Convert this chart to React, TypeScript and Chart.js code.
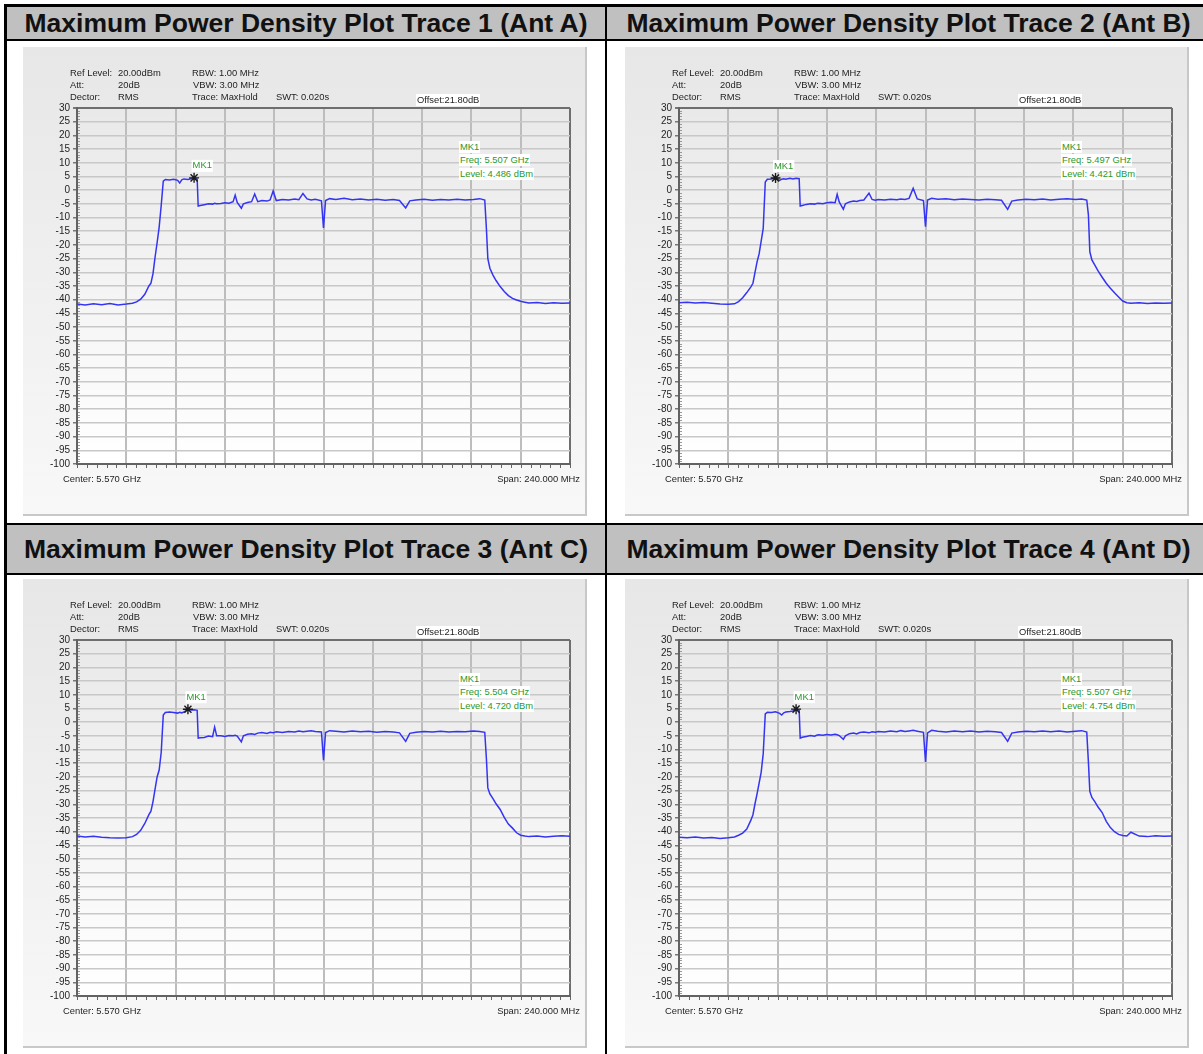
import React, { useEffect, useRef } from "react";
import { Chart, registerables } from "chart.js";

Chart.register(...registerables);

// ---------- data ----------
const START_MHZ = 5450;
const SPAN_MHZ = 240;
const CENTER_TEXT = "Center: 5.570 GHz";
const SPAN_TEXT = "Span: 240.000 MHz";
const Y_MIN = -100;
const Y_MAX = 30;
const Y_STEP = 5;
const X_STEP = 24;

const TITLES = [
  "Maximum Power Density Plot Trace 1 (Ant A)",
  "Maximum Power Density Plot Trace 2 (Ant B)",
  "Maximum Power Density Plot Trace 3 (Ant C)",
  "Maximum Power Density Plot Trace 4 (Ant D)",
];

const INFO_LABELS = ["Ref Level:", "Att:", "Dector:"];
const INFO_VALUES = ["20.00dBm", "20dB", "RMS"];
const INFO_MID = ["RBW: 1.00 MHz", "VBW: 3.00 MHz", "Trace: MaxHold"];
const SWT_TEXT = "SWT: 0.020s";
const OFFSET_TEXT = "Offset:21.80dB";

const MARKER_FREQ_GHZ = [5.507, 5.497, 5.504, 5.507];
const MARKER_LEVEL_DBM = [4.486, 4.421, 4.72, 4.754];

// frequency offsets from the start frequency (MHz)
const FREQ_OFFSET_MHZ = [
  0, 4, 8, 12, 16, 20, 24, 27,
  29, 31, 33, 35, 36, 37, 38, 39, 40, 41, 42, 43,
  45, 47, 49, 50, 51, 52, 54, 55.5, 57, 58.5,
  59, 60, 62, 64, 66, 67, 68, 70, 72, 74,
  76, 77, 78, 80, 81, 83, 85, 86.5, 88, 90,
  92.5, 94, 95.5, 97, 100, 103, 106, 108, 110, 112,
  114, 116, 119, 120, 121, 123, 126, 130, 134, 138,
  142, 146, 150, 154, 157, 160, 162, 165, 169, 173,
  177, 181, 185, 189, 193, 196, 198.5,
  199.3, 200, 201, 202.5, 204, 206, 208, 210, 212, 214,
  216, 218, 220, 224, 228, 232, 236, 240,
];

const LEVEL_ANT_A = [
  -41.6, -41.9, -41.5, -41.8, -41.4, -41.9, -41.6, -41.3,
  -40.8, -39.8, -38.0, -35.0, -34.0, -30.5, -24.5, -19.2, -13.5, -5.5, 3.3, 3.9,
  3.7, 4.0, 3.6, 2.6, 3.8, 4.1, 3.9, 4.2, 4.49, 4.0,
  -5.8, -5.6, -5.3, -5.0, -5.1, -4.8, -5.0, -4.9, -4.6, -4.8,
  -4.2, -1.8, -4.5, -6.6, -5.0, -4.5, -4.2, -1.4, -4.2, -3.8,
  -4.0, -3.6, -0.3, -3.8, -3.4, -3.6, -3.2, -3.5, -1.2, -3.2,
  -3.6, -3.3, -3.9, -13.8, -3.8, -3.1, -3.4, -3.0, -3.5, -3.2,
  -3.6, -3.3, -3.7, -3.4, -3.8, -6.5, -3.9, -3.6, -3.3, -3.7,
  -3.4, -3.6, -3.3, -3.6, -3.4, -3.1, -3.6,
  -14.0, -25.0, -28.5, -31.0, -33.0, -35.2, -37.0, -38.5, -39.5, -40.1,
  -40.6, -40.9, -41.2, -41.0, -41.4, -41.1, -41.3, -41.2,
];

const LEVEL_ANT_B = [
  -41.1, -40.9, -41.2, -41.0, -41.3, -41.6, -41.7, -41.5,
  -40.7, -39.3, -37.4, -35.3, -34.0, -30.0, -26.2, -23.3, -18.6, -14.0, 3.0, 4.0,
  4.1, 4.42, 3.6, 4.0, 4.2, 4.0, 4.3, 4.1, 4.35, 4.2,
  -5.8, -5.6, -5.2, -5.0, -5.1, -4.9, -4.8, -5.0, -4.6, -4.4,
  -4.6, -1.5, -4.3, -7.0, -5.0, -4.3, -4.0, -4.1, -3.8, -3.6,
  -1.1, -3.4, -3.7, -3.4, -3.6, -3.3, -3.5, -3.2, -3.4, -3.0,
  0.7, -3.2, -3.8, -13.3, -3.6, -3.0, -3.3, -3.1, -3.5, -3.2,
  -3.4, -3.6, -3.3, -3.5, -3.7, -7.0, -4.0, -3.6, -3.3, -3.5,
  -3.2, -3.6, -3.3, -3.1, -3.4, -3.2, -3.6,
  -9.0, -22.5, -25.5, -27.5, -29.5, -31.8, -34.0, -35.8, -37.5, -39.0,
  -40.5, -41.1, -41.3, -41.1, -41.4, -41.2, -41.3, -41.2,
];

const LEVEL_ANT_C = [
  -41.6, -41.9, -41.7, -42.0, -42.2, -42.3, -42.2, -41.8,
  -41.0, -39.5, -37.0, -33.8, -32.5, -29.0, -24.5, -20.0, -17.5, -11.0, 2.6, 3.5,
  3.7, 3.5, 3.3, 3.6, 3.4, 3.7, 4.72, 4.4, 4.5, 4.3,
  -5.8, -5.7, -5.6, -5.1, -5.3, -1.8, -5.0, -5.0, -5.2, -4.9,
  -5.0, -4.8, -5.1, -7.2, -5.0, -4.4, -4.2, -4.5, -4.0, -3.8,
  -4.1, -3.7, -3.9, -3.5, -3.8, -3.4, -3.6, -3.2, -3.5, -3.3,
  -3.1, -3.4, -3.6, -13.9, -3.8, -3.1, -3.3, -3.6, -3.2, -3.5,
  -3.3, -3.7, -3.4, -3.6, -3.9, -7.0, -4.1, -3.7, -3.4, -3.6,
  -3.3, -3.6, -3.4, -3.5, -3.2, -3.4, -3.7,
  -13.3, -24.0, -26.2, -27.9, -29.8, -31.9, -34.8, -37.2, -38.7, -40.4,
  -41.3, -41.6, -41.8, -41.6, -41.9, -41.7, -41.5, -41.7,
];

const LEVEL_ANT_D = [
  -42.0, -42.2, -41.9, -42.3, -42.1, -42.5, -42.2, -41.9,
  -41.3, -40.5, -39.0, -35.8, -33.8, -29.8, -26.2, -22.3, -18.3, -11.5, 3.0, 3.6,
  3.5, 3.8, 3.2, 2.6, 3.4, 3.7, 3.9, 4.1, 4.754, 4.3,
  -5.8, -5.5, -5.2, -4.9, -5.1, -4.8, -4.6, -4.8, -4.5, -4.7,
  -4.4, -4.6, -4.9, -6.3, -5.0, -4.2, -4.0, -4.3, -3.8, -3.6,
  -3.9, -3.5, -3.7, -3.4, -3.6, -3.2, -3.5, -3.1, -3.4, -3.2,
  -3.0, -3.3, -3.7, -14.5, -3.9, -3.0, -3.3, -3.6, -3.2, -3.5,
  -3.2, -3.6, -3.3, -3.5, -3.8, -7.0, -4.0, -3.6, -3.3, -3.5,
  -3.2, -3.5, -3.2, -3.6, -3.3, -3.1, -3.6,
  -14.5, -25.3, -27.5, -29.1, -31.0, -33.0, -36.2, -38.5, -40.0, -41.0,
  -41.4, -41.6, -40.2, -41.6, -41.8, -41.5, -41.7, -41.6,
];

const LEVELS = [LEVEL_ANT_A, LEVEL_ANT_B, LEVEL_ANT_C, LEVEL_ANT_D];

// ---------- styling ----------
const FONT = '"Liberation Sans", Arial, sans-serif';
const SMALL = 9.4;
const GREEN = "#2b982b";
const TRACE = "#3434f2";
const PANEL_W = 564;
const PANEL_H = 469;

const Txt: React.FC<{
  x: number;
  y: number;
  color?: string;
  bg?: string;
  right?: boolean;
  children: React.ReactNode;
}> = ({ x, y, color, bg, right, children }) => (
  <div
    style={{
      position: "absolute",
      left: right ? undefined : x,
      right: right ? PANEL_W - x : undefined,
      top: y - 6,
      height: 12,
      lineHeight: "12px",
      fontFamily: FONT,
      fontSize: SMALL,
      color: color || "#1e1e1e",
      background: bg,
      whiteSpace: "nowrap",
      padding: bg ? "0 1px" : 0,
    }}
  >
    {children}
  </div>
);

function makeDecor(idx: number) {
  return {
    id: "decor" + idx,
    beforeDraw(chart: any) {
      const { ctx, chartArea: a } = chart;
      ctx.save();
      const g = ctx.createLinearGradient(0, a.top, 0, a.bottom);
      g.addColorStop(0, "#e9e9e9");
      g.addColorStop(1, "#ffffff");
      ctx.fillStyle = g;
      ctx.fillRect(a.left, a.top, a.right - a.left, a.bottom - a.top);
      ctx.restore();
    },
    beforeDatasetsDraw(chart: any) {
      const { ctx, chartArea: a } = chart;
      const ys = chart.scales.y;
      ctx.save();
      ctx.strokeStyle = "#9a9a9a";
      ctx.lineWidth = 1;
      for (let v = Y_MIN + 1; v < Y_MAX; v++) {
        if (v % Y_STEP === 0) continue;
        const py = Math.round(ys.getPixelForValue(v)) + 0.5;
        ctx.beginPath();
        ctx.moveTo(a.left + 1, py);
        ctx.lineTo(a.left + 3, py);
        ctx.stroke();
      }
      ctx.strokeStyle = "#666";
      const n = 50;
      for (let i = 0; i <= n; i++) {
        const px = Math.round(a.left + ((a.right - a.left) * i) / n) + 0.5;
        ctx.beginPath();
        ctx.moveTo(px, a.bottom + 1);
        ctx.lineTo(px, a.bottom + 4);
        ctx.stroke();
      }
      ctx.restore();
    },
    afterDraw(chart: any) {
      const { ctx } = chart;
      const px = chart.scales.x.getPixelForValue(MARKER_FREQ_GHZ[idx] * 1000 - START_MHZ);
      const py = chart.scales.y.getPixelForValue(MARKER_LEVEL_DBM[idx]);
      ctx.save();
      ctx.font = `${SMALL}px ${FONT}`;
      const w = ctx.measureText("MK1").width;
      ctx.fillStyle = "#ffffff";
      ctx.fillRect(px - 2.5, py - 18, w + 2, 12);
      ctx.fillStyle = GREEN;
      ctx.textBaseline = "middle";
      ctx.fillText("MK1", px - 1.5, py - 12);
      ctx.restore();
    },
  };
}

const Panel: React.FC<{ idx: number; left: number; top: number }> = ({ idx, left, top }) => {
  const ref = useRef<HTMLCanvasElement>(null);
  useEffect(() => {
    if (!ref.current) return;
    const levels = LEVELS[idx];
    const points = FREQ_OFFSET_MHZ.map((f, i) => ({ x: f, y: levels[i] }));
    const marker = [{ x: MARKER_FREQ_GHZ[idx] * 1000 - START_MHZ, y: MARKER_LEVEL_DBM[idx] }];
    const chart = new Chart(ref.current, {
      type: "line",
      data: {
        datasets: [
          {
            data: marker,
            type: "scatter",
            pointStyle: "star",
            pointRadius: 5,
            borderColor: "#1a1a1a",
            backgroundColor: "#1a1a1a",
            borderWidth: 1.4,
            showLine: false,
            order: 0,
          } as any,
          {
            data: points,
            borderColor: TRACE,
            borderWidth: 1.5,
            pointRadius: 0,
            tension: 0,
            fill: false,
            order: 1,
          },
        ],
      },
      options: {
        animation: false,
        responsive: false,
        devicePixelRatio: 1,
        events: [],
        layout: { padding: { left: 0, top: 61, right: 17, bottom: 0 } },
        plugins: { legend: { display: false }, tooltip: { enabled: false } },
        scales: {
          x: {
            type: "linear",
            min: 0,
            max: SPAN_MHZ,
            afterFit: (s: any) => {
              s.height = 52;
            },
            ticks: { display: false, stepSize: X_STEP },
            grid: {
              color: (c: any) => (c.tick && c.tick.value === SPAN_MHZ ? "#6e6e6e" : "#bdbdbd"),
              lineWidth: 2,
              drawTicks: false,
            },
            border: { display: true, color: "#626262", width: 2 },
          },
          y: {
            type: "linear",
            min: Y_MIN,
            max: Y_MAX,
            afterFit: (s: any) => {
              s.width = 54;
            },
            ticks: {
              stepSize: Y_STEP,
              autoSkip: false,
              maxTicksLimit: 40,
              padding: 3,
              color: "#1e1e1e",
              font: { family: FONT, size: 10 },
            },
            grid: {
              color: (c: any) => (c.tick && c.tick.value === Y_MAX ? "#6e6e6e" : "#c8c8c8"),
              lineWidth: (c: any) => (c.tick && c.tick.value === Y_MAX ? 2 : 1.5),
              drawTicks: true,
              tickLength: 4,
              tickColor: "#777",
            },
            border: { display: true, color: "#626262", width: 2 },
          },
        },
      },
      plugins: [makeDecor(idx)],
    } as any);
    return () => chart.destroy();
  }, [idx]);

  const mk = MARKER_FREQ_GHZ[idx].toFixed(3);
  const lv = MARKER_LEVEL_DBM[idx].toFixed(3);

  return (
    <div
      style={{
        position: "absolute",
        left,
        top,
        width: PANEL_W,
        height: PANEL_H,
        boxSizing: "border-box",
        background: "linear-gradient(#e7e7e7, #f8f8f8)",
        borderRight: "2px solid #c8c8c8",
        borderBottom: "2px solid #c8c8c8",
      }}
    >
      <canvas
        ref={ref}
        width={PANEL_W}
        height={PANEL_H}
        style={{ position: "absolute", left: 0, top: 0, width: PANEL_W, height: PANEL_H }}
      />
      {INFO_LABELS.map((t, i) => (
        <Txt key={"l" + i} x={47} y={26 + i * 12}>
          {t}
        </Txt>
      ))}
      {INFO_VALUES.map((t, i) => (
        <Txt key={"v" + i} x={95} y={26 + i * 12}>
          {t}
        </Txt>
      ))}
      {INFO_MID.map((t, i) => (
        <Txt key={"m" + i} x={i === 1 ? 170 : 169} y={26 + i * 12}>
          {t}
        </Txt>
      ))}
      <Txt x={253} y={50}>
        {SWT_TEXT}
      </Txt>
      <Txt x={393} y={53} bg="#ffffff">
        {OFFSET_TEXT}
      </Txt>
      <Txt x={436} y={100} color={GREEN} bg="#ffffff">
        MK1
      </Txt>
      <Txt x={436} y={113} color={GREEN} bg="#ffffff">
        {`Freq: ${mk} GHz`}
      </Txt>
      <Txt x={436} y={127} color={GREEN} bg="#ffffff">
        {`Level: ${lv} dBm`}
      </Txt>
      <Txt x={40} y={432}>
        {CENTER_TEXT}
      </Txt>
      <Txt x={559} y={432} right>
        {SPAN_TEXT}
      </Txt>
    </div>
  );
};

const Bar: React.FC<{ l: number; t: number; w: number; h: number; c?: string }> = ({ l, t, w, h, c }) => (
  <div style={{ position: "absolute", left: l, top: t, width: w, height: h, background: c || "#000" }} />
);

const Header: React.FC<{ l: number; t: number; w: number; h: number; text: string }> = ({ l, t, w, h, text }) => (
  <div
    style={{
      position: "absolute",
      left: l,
      top: t,
      width: w,
      height: h,
      display: "flex",
      alignItems: "center",
      justifyContent: "center",
      fontFamily: FONT,
      fontWeight: "bold",
      fontSize: 26.5,
      color: "#111",
      whiteSpace: "nowrap",
    }}
  >
    {text}
  </div>
);

export default function App() {
  return (
    <div
      style={{
        position: "absolute",
        left: 0,
        top: 0,
        width: 1203,
        height: 1054,
        overflow: "hidden",
        background: "#ffffff",
      }}
    >
      {/* header backgrounds */}
      <Bar l={7} t={7} w={1200} h={32} c="#c0c0c0" />
      <Bar l={7} t={525} w={1200} h={48} c="#c0c0c0" />
      <Header l={7} t={7} w={598} h={32} text={TITLES[0]} />
      <Header l={607} t={7} w={603} h={32} text={TITLES[1]} />
      <Header l={7} t={525} w={598} h={48} text={TITLES[2]} />
      <Header l={607} t={525} w={603} h={48} text={TITLES[3]} />
      {/* panels */}
      <Panel idx={0} left={23} top={47} />
      <Panel idx={1} left={625} top={47} />
      <Panel idx={2} left={23} top={579} />
      <Panel idx={3} left={625} top={579} />
      {/* table borders */}
      <Bar l={4} t={4} w={1210} h={3} />
      <Bar l={4} t={39} w={1210} h={2} />
      <Bar l={4} t={523} w={1210} h={2} />
      <Bar l={4} t={573} w={1210} h={2} />
      <Bar l={4} t={4} w={3} h={1060} />
      <Bar l={605} t={4} w={2} h={1060} />
    </div>
  );
}
